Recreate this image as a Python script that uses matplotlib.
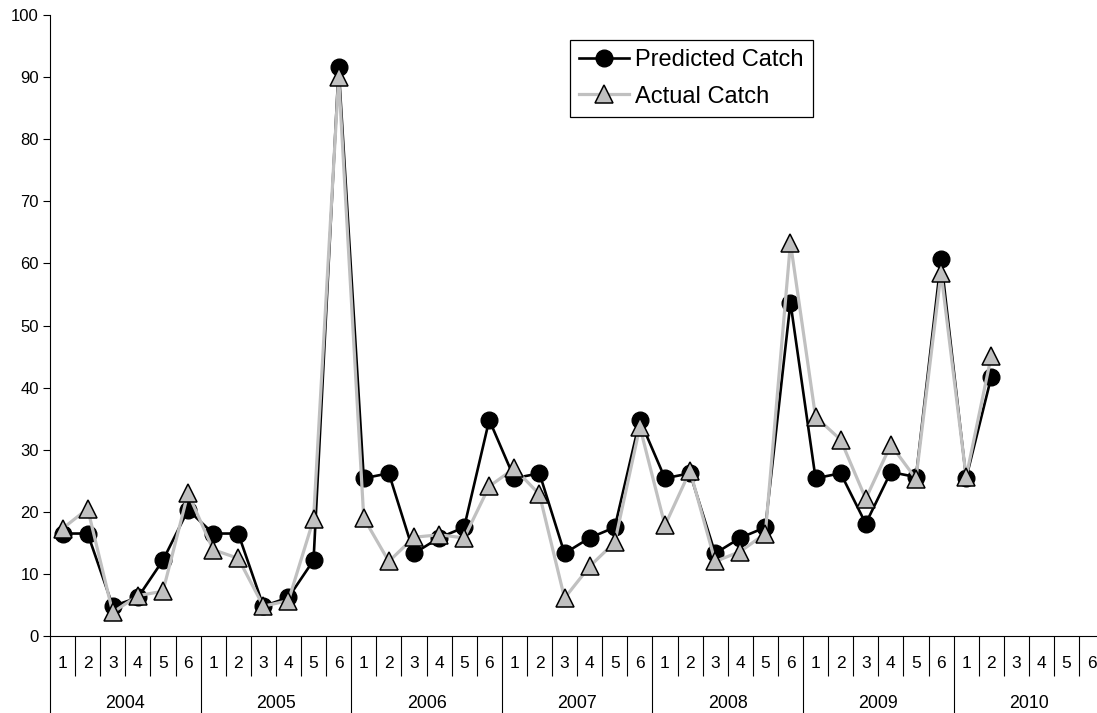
import numpy as np
import matplotlib
matplotlib.use("Agg")
import matplotlib.pyplot as plt
from matplotlib.lines import Line2D

plt.rcParams['font.family'] = ['Liberation Sans', 'DejaVu Sans']

years = ['2004', '2005', '2006', '2007', '2008', '2009', '2010']
periods = ['1', '2', '3', '4', '5', '6']

predicted = [16.5, 16.5, 4.8, 6.2, 12.2, 20.3,
             16.5, 16.5, 4.8, 6.2, 12.2, 91.6,
             25.4, 26.2, 13.3, 15.8, 17.5, 34.8,
             25.4, 26.2, 13.3, 15.8, 17.5, 34.8,
             25.4, 26.2, 13.3, 15.8, 17.5, 53.7,
             25.4, 26.2, 18.1, 26.4, 25.6, 60.7,
             25.4, 41.7, np.nan, np.nan, np.nan, np.nan]
actual = [17.3, 20.5, 3.8, 6.5, 7.2, 23.0,
          13.9, 12.5, 4.8, 5.7, 18.8, 90.0,
          19.0, 12.0, 15.9, 16.3, 15.8, 24.1,
          27.0, 22.8, 6.1, 11.2, 15.1, 33.7,
          17.8, 26.6, 12.0, 13.6, 16.5, 63.3,
          35.3, 31.6, 22.1, 30.8, 25.3, 58.5,
          25.6, 45.1, np.nan, np.nan, np.nan, np.nan]

W, H = 1097, 713
fig = plt.figure(figsize=(W / 100, H / 100), dpi=100)
n = len(predicted)
step = 25.1
ax = fig.add_axes([50 / W, (H - 636) / H, n * step / W, 621 / H])

pred_style = dict(color='black', lw=1.9, marker='o', ms=12, mfc='black', mec='black')
act_style = dict(color='#c0c0c0', lw=2.3, marker='^', ms=12.5, mfc='#c0c0c0',
                 mec='black', mew=1.1)

x = np.arange(n)
ax.plot(x, predicted, zorder=3, **pred_style)
ax.plot(x, actual, zorder=4, **act_style)

ax.set_xlim(-0.5, n - 0.5)
ax.set_ylim(0, 100)
ax.set_yticks(np.arange(0, 101, 10))
ax.tick_params(axis='y', direction='out', length=5, width=0.8, labelsize=12, pad=3)

for s in ['top', 'right']:
    ax.spines[s].set_visible(False)
ax.spines['left'].set_linewidth(0.8)
ax.spines['bottom'].set_linewidth(0.8)

# category boundaries (short) and year boundaries (long)
bounds = np.arange(n + 1) - 0.5
ax.set_xticks(bounds[::6])
ax.set_xticklabels([])
ax.set_xticks(bounds, minor=True)
ax.tick_params(axis='x', which='major', direction='out', length=56, width=0.8)
ax.tick_params(axis='x', which='minor', direction='out', length=29, width=0.8)

trans = ax.get_xaxis_transform()
for i in range(n):
    ax.text(i, -27 / 621, periods[i % 6], transform=trans, ha='center',
            va='center', fontsize=12.5, clip_on=False)
for j, yr in enumerate(years):
    ax.text(j * 6 + 2.5, -67 / 621, yr, transform=trans, ha='center',
            va='center', fontsize=12.8, clip_on=False)

handles = [Line2D([], [], **pred_style), Line2D([], [], **act_style)]
leg = ax.legend(handles, ['Predicted Catch', 'Actual Catch'],
                loc='upper left', bbox_to_anchor=(570 / W, 1 - 40 / H),
                bbox_transform=fig.transFigure, fontsize=17, frameon=True,
                fancybox=False, edgecolor='black', framealpha=1,
                borderpad=0.4, handlelength=2.1, handletextpad=0.25,
                labelspacing=0.6, borderaxespad=0)
leg.get_frame().set_linewidth(0.9)

fig.savefig('out.png', dpi=100)
